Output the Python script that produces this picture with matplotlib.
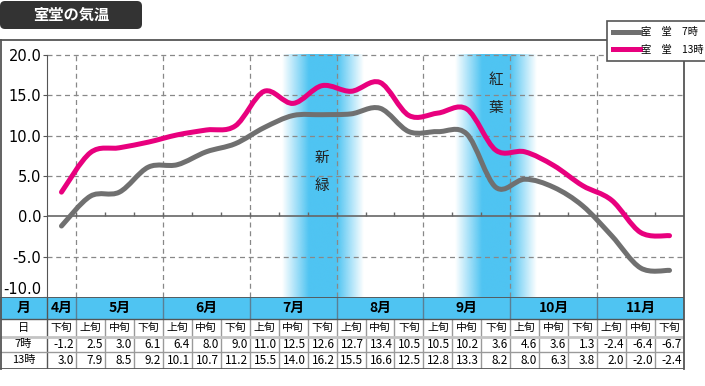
import numpy as np
import matplotlib.pyplot as plt
from matplotlib.path import Path
from matplotlib.patches import PathPatch, FancyBboxPatch, Rectangle
from matplotlib.lines import Line2D
from matplotlib.colors import to_rgb

plt.rcParams['font.family'] = ['Noto Sans CJK JP', 'DejaVu Sans']

# ---- データ ----
months = ['4月', '5月', '6月', '7月', '8月', '9月', '10月', '11月']
month_cells = [1, 3, 3, 3, 3, 3, 3, 3]
periods = ['下旬'] + ['上旬', '中旬', '下旬'] * 7
temp_7 = [-1.2, 2.5, 3.0, 6.1, 6.4, 8.0, 9.0, 11.0, 12.5, 12.6, 12.7,
          13.4, 10.5, 10.5, 10.2, 3.6, 4.6, 3.6, 1.3, -2.4, -6.4, -6.7]
temp_13 = [3.0, 7.9, 8.5, 9.2, 10.1, 10.7, 11.2, 15.5, 14.0, 16.2, 15.5,
           16.6, 12.5, 12.8, 13.3, 8.2, 8.0, 6.3, 3.8, 2.0, -2.0, -2.4]
# 帯の中心（旬の番号）と文字
bands = [(9, '新緑', 7.2), (15, '紅葉', 16.9)]
yticks = [-10, -5, 0, 5, 10, 15, 20]

GRAY = '#707070'
PINK = '#E8007E'
BLUE = '#4FC4F2'
W, H = 705, 386
n = len(temp_7)
cw = 637 / n          # 1旬あたりのピクセル幅


def smooth_path(xs, ys):
    # Catmull-Rom をベジェに変換
    pts = np.column_stack([xs, ys]).astype(float)
    ext = np.vstack([pts[0], pts, pts[-1]])
    verts = [pts[0]]
    codes = [Path.MOVETO]
    for i in range(len(pts) - 1):
        p0, p1, p2, p3 = ext[i], ext[i + 1], ext[i + 2], ext[i + 3]
        verts += [p1 + (p2 - p0) / 6, p2 - (p3 - p1) / 6, p2]
        codes += [Path.CURVE4] * 3
    return Path(verts, codes)


fig = plt.figure(figsize=(W / 100, H / 100), dpi=100)

# ---- グラフ本体 ----
ax = fig.add_axes([47 / W, 1 - 297 / H, 637 / W, 257 / H])
ytop = 20 + 15 / (242 / 30)

for c, label, ty in bands:
    t = np.linspace(-1.4, 1.4, 300)
    alpha = np.clip((1.4 - np.abs(t)) / 0.92, 0, 1)
    rgba = np.zeros((1, t.size, 4))
    rgba[..., :3] = to_rgb(BLUE)
    rgba[..., 3] = alpha
    ax.imshow(rgba, extent=(c - 1.4, c + 1.4, -10, 20), aspect='auto',
              interpolation='bilinear', zorder=0.5)
    for j, ch in enumerate(label):
        ax.text(c, ty - 3.45 * j, ch, ha='center', va='center', fontsize=10.5,
                color='#222222', zorder=3)

ax.set_xlim(-0.5, n - 0.5)
ax.set_ylim(-10, ytop)

for y in [20, 15, 10, 5, -5]:
    ax.axhline(y, color='#888888', lw=0.9, ls=(0, (4, 3)), zorder=1)
bounds = np.cumsum(month_cells)[:-1] - 0.5
ax.vlines(bounds, -10, 20, color='#888888', lw=0.9, ls=(0, (4, 3)), zorder=1)
ax.axhline(0, color='#666666', lw=1.2, zorder=1.5)
ax.vlines(np.arange(n - 1) + 0.5, 0, 0.5, color='#666666', lw=1, zorder=1.5)

xs = np.arange(n)
ax.add_patch(PathPatch(smooth_path(xs, temp_7), fill=False, ec=GRAY, lw=3.6,
                       capstyle='round', joinstyle='round', zorder=4))
ax.add_patch(PathPatch(smooth_path(xs, temp_13), fill=False, ec=PINK, lw=3.6,
                       capstyle='round', joinstyle='round', zorder=4))

for s in ['top', 'right', 'bottom']:
    ax.spines[s].set_visible(False)
ax.spines['left'].set_bounds(-10, 20)
ax.spines['left'].set_color('#555555')
ax.set_xticks([])
ax.set_yticks(yticks)
ax.set_yticklabels([f'{v:.1f}' for v in yticks], family='DejaVu Sans',
                   fontsize=10.5)
ax.get_yticklabels()[0].set_va('bottom')
ax.tick_params(axis='y', length=3, pad=1, color='#555555')
ax.patch.set_alpha(0)

# ---- 表 ----
tax = fig.add_axes([0, 1 - 369 / H, 684 / W, 72 / H])
xl = -0.5 - 47 / cw
xr = n - 0.5
tax.set_xlim(xl, xr)
tax.set_ylim(72, 0)
tax.axis('off')
tax.add_patch(Rectangle((xl, 0), xr - xl, 22, color=BLUE, lw=0))
lab_x = (xl - 0.5) / 2
tax.text(lab_x, 11, '月', ha='center', va='center', fontsize=10, weight='bold')
start = 0
for m, k in zip(months, month_cells):
    tax.text(start + (k - 1) / 2, 11, m, ha='center', va='center',
             fontsize=10, weight='bold')
    start += k
rows = [('日', 30.5), ('7時', 47), ('13時', 63.5)]
for name, yc in rows:
    tax.text(lab_x, yc, name, ha='center', va='center', fontsize=8)
for i in range(n):
    tax.text(i, 30.5, periods[i], ha='center', va='center', fontsize=7.8)
    tax.text(i + 0.43, 47, f'{temp_7[i]:.1f}', ha='right', va='center',
             fontsize=8.5)
    tax.text(i + 0.43, 63.5, f'{temp_13[i]:.1f}', ha='right', va='center',
             fontsize=8.5)
tax.vlines(np.arange(n - 1) + 0.5, 22, 72, color='#9a9a9a', lw=1)
tax.vlines(bounds, 0, 22, color='#5a7f95', lw=1)
tax.vlines([-0.5], 0, 72, color='#555555', lw=1)
tax.hlines([22], xl, xr, color='#555555', lw=1)
tax.hlines([39.5], xl, xr, color='#c4c4c4', lw=2)
tax.hlines([55], xl, xr, color='#9a9a9a', lw=1)
tax.hlines([0, 72], xl, xr, color='#555555', lw=1.3)

# ---- 枠・タイトル・凡例 ----
oax = fig.add_axes([0, 0, 1, 1], zorder=5)
oax.set_xlim(0, W)
oax.set_ylim(H, 0)
oax.axis('off')
oax.plot([684, 684], [40, 369], color='#555555', lw=1.3)
oax.plot([0.6, 0.6], [40, 369], color='#555555', lw=1.3)
oax.plot([0, 684], [40, 40], color='#555555', lw=1.3)
oax.add_patch(FancyBboxPatch((0, 1), 142, 28,
                             boxstyle='round,pad=0,rounding_size=5',
                             fc='#333333', ec='none'))
oax.text(71, 15, '室堂の気温', color='white', fontsize=11, weight='bold',
         ha='center', va='center')
handles = [Line2D([], [], color=GRAY, lw=3.6), Line2D([], [], color=PINK, lw=3.6)]
leg = oax.legend(handles, ['室　堂　7時', '室　堂　13時'], loc='upper left',
                 bbox_to_anchor=(607, 21), bbox_transform=oax.transData,
                 borderaxespad=0, fontsize=7.4, handlelength=2.6,
                 handletextpad=0.15, borderpad=0.6, labelspacing=0.75,
                 fancybox=False, framealpha=1)
leg.get_frame().set_edgecolor('#555555')
leg.get_frame().set_linewidth(1.2)

fig.savefig('out.png', dpi=100)
